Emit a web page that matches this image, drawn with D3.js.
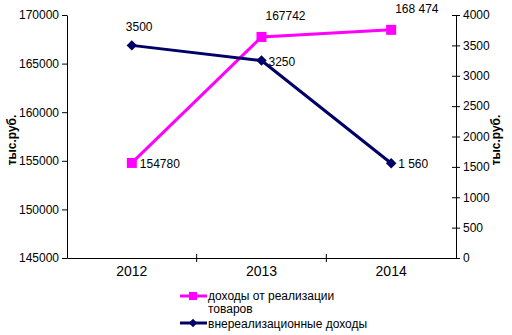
<!DOCTYPE html>
<html><head><meta charset="utf-8">
<script src="https://cdn.jsdelivr.net/npm/d3@7"></script>
<style>body{margin:0;background:#fff}svg{display:block;font-family:"Liberation Sans",Arial,sans-serif}</style>
</head><body><svg id="c" width="512" height="335"></svg>
<script>
const years = ["2012","2013","2014"];
const salesIncome = [154780, 167742, 168474];
const salesLabels = ["154780","167742","168 474"];
const otherIncome = [3500, 3250, 1560];
const otherLabels = ["3500","3250","1 560"];
const leftTicks = [145000,150000,155000,160000,165000,170000];
const rightTicks = [0,500,1000,1500,2000,2500,3000,3500,4000];
const seriesNames = ["доходы от реализации товаров","внереализационные доходы"];

const svg = d3.select("#c");
const L = 67, R = 456, T = 15, B = 258;
const x = d3.scaleBand().domain(years).range([L, R]);
const yL = d3.scaleLinear().domain([145000,170000]).range([B, T]);
const yR = d3.scaleLinear().domain([0,4000]).range([B, T]);
const cx = d => x(d) + x.bandwidth()/2;

const gl = svg.append("g").attr("transform",`translate(${L},0)`)
  .call(d3.axisLeft(yL).tickValues(leftTicks).tickSize(5).tickSizeOuter(0).tickFormat(d3.format("d")));
const gr = svg.append("g").attr("transform",`translate(${R},0)`)
  .call(d3.axisRight(yR).tickValues(rightTicks).tickSizeOuter(0).tickFormat(d3.format("d")));
gr.selectAll(".tick line").attr("x1",-4).attr("x2",4);
gr.selectAll(".tick text").attr("x",7);
const gb = svg.append("g").attr("transform",`translate(0,${B})`)
  .call(d3.axisBottom(x).tickSize(0).tickSizeOuter(0).tickPadding(8));
gb.selectAll(".tick text").attr("font-size",14).attr("fill","#000");
gb.selectAll(".sep").data(years.slice(1)).join("line")
  .attr("x1",d=>x(d)).attr("x2",d=>x(d)).attr("y1",-4).attr("y2",4).attr("stroke","#000");
[gl,gr,gb].forEach(g=>{g.selectAll(".domain").attr("stroke","#000");g.selectAll(".tick line").attr("stroke","#000");});
[gl,gr].forEach(g=>g.selectAll(".tick text").attr("font-size",12).attr("fill","#000").attr("font-family","Liberation Sans, Arial, sans-serif"));
gb.selectAll(".tick text").attr("font-family","Liberation Sans, Arial, sans-serif");

svg.append("text").attr("transform","translate(16,140) rotate(-90)").attr("text-anchor","middle")
  .attr("font-size",12).attr("font-weight","bold").text("тыс.руб.");
svg.append("text").attr("transform","translate(500,140) rotate(-90)").attr("text-anchor","middle")
  .attr("font-size",12).attr("font-weight","bold").text("тыс.руб.");

const pink = "#ff00ff", navy = "#000066";
svg.append("path").datum(salesIncome.map((v,i)=>[cx(years[i]), yL(v)]))
  .attr("d", d3.line()).attr("fill","none").attr("stroke",pink).attr("stroke-width",3);
svg.append("path").datum(otherIncome.map((v,i)=>[cx(years[i]), yR(v)]))
  .attr("d", d3.line()).attr("fill","none").attr("stroke",navy).attr("stroke-width",3);

svg.selectAll(".sq").data(salesIncome).join("rect")
  .attr("x",(d,i)=>cx(years[i])-5).attr("y",d=>yL(d)-5).attr("width",10).attr("height",10).attr("fill",pink);
const diamond = d3.symbol().type(d3.symbolDiamond2).size(70);
svg.selectAll(".dm").data(otherIncome).join("path")
  .attr("transform",(d,i)=>`translate(${cx(years[i])},${yR(d)})`).attr("d",diamond).attr("fill",navy);

const salesOff = [[8,5,"start"],[4,-17,"start"],[4,-17,"start"]];
svg.selectAll(".sl").data(salesIncome).join("text")
  .attr("x",(d,i)=>cx(years[i])+salesOff[i][0]).attr("y",(d,i)=>yL(d)+salesOff[i][1])
  .attr("text-anchor",(d,i)=>salesOff[i][2]).attr("font-size",12).text((d,i)=>salesLabels[i]);
const otherOff = [[-6,-14,"start"],[7,5,"start"],[7,5,"start"]];
svg.selectAll(".ol").data(otherIncome).join("text")
  .attr("x",(d,i)=>cx(years[i])+otherOff[i][0]).attr("y",(d,i)=>yR(d)+otherOff[i][1])
  .attr("text-anchor",(d,i)=>otherOff[i][2]).attr("font-size",12).text((d,i)=>otherLabels[i]);

const lg = svg.append("g");
lg.append("line").attr("x1",180).attr("x2",207).attr("y1",296).attr("y2",296).attr("stroke",pink).attr("stroke-width",3);
lg.append("rect").attr("x",189).attr("y",292).attr("width",8).attr("height",8).attr("fill",pink);
lg.append("text").attr("x",208).attr("y",300).attr("font-size",12).text("доходы от реализации");
lg.append("text").attr("x",208).attr("y",313).attr("font-size",12).text("товаров");
lg.append("line").attr("x1",180).attr("x2",207).attr("y1",323).attr("y2",323).attr("stroke",navy).attr("stroke-width",3);
lg.append("path").attr("transform","translate(193,323)").attr("d",d3.symbol().type(d3.symbolDiamond2).size(45)).attr("fill",navy);
lg.append("text").attr("x",208).attr("y",328).attr("font-size",12).text("внереализационные доходы");
</script></body></html>
